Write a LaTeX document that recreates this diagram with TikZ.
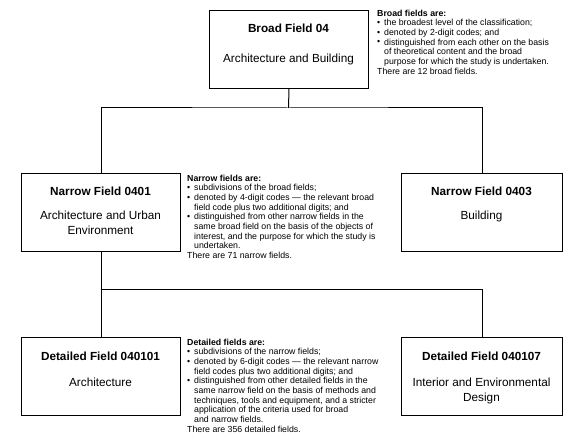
\documentclass[tikz,border=0pt]{standalone}
\usepackage{fontspec}
\setmainfont{Liberation Sans}
\newcommand\blt{\makebox[7bp][l]{\raisebox{0.3pt}{\textbullet}}}
\newcommand\ind{\hspace*{7bp}}
\begin{document}
\begin{tikzpicture}[x=1bp,y=-1bp,
  box/.style={draw,line width=1bp,minimum width=159bp,minimum height=78bp,inner sep=0,anchor=north west},
  ttl/.style={font=\fontsize{11.8}{14}\selectfont\bfseries,anchor=base,inner sep=0},
  bdy/.style={font=\fontsize{11.8}{15}\selectfont,anchor=base,inner sep=0},
  note/.style={font=\fontsize{8.8}{9.7}\selectfont,anchor=base west,align=left,inner sep=0},
  conn/.style={line width=1bp}]
\fill[white] (0,0) rectangle (582,445);
\useasboundingbox (0,0) rectangle (582,445);
% boxes
\node[box] (broad) at (209,10) {};
\node[box] (n1) at (21,173) {};
\node[box,minimum width=161bp] (n3) at (401,173) {};
\node[box] (d1) at (21,337) {};
\node[box,minimum width=161bp] (d2) at (401,337) {};
% box texts
\node[ttl] (broadT) at (288.5,33) {Broad Field 04};
\node[bdy] (broadB) at (288.5,63) {Architecture and Building};
\node[ttl] (n1T) at (100.5,196) {Narrow Field 0401};
\node[bdy] (n1B) at (100.5,220) {Architecture and Urban};
\node[bdy] (n1C) at (100.5,235) {Environment};
\node[ttl] (n3T) at (481.5,196) {Narrow Field 0403};
\node[bdy] (n3B) at (481.5,220) {Building};
\node[ttl] (d1T) at (100.5,360) {Detailed Field 040101};
\node[bdy] (d1B) at (100.5,386) {Architecture};
\node[ttl] (d2T) at (481.5,360) {Detailed Field 040107};
\node[bdy] (d2B) at (481.5,386) {Interior and Environmental};
\node[bdy] (d2C) at (481.5,401) {Design};
% notes (anchored at the baseline of their last line)
\node[note] (bnote) at (377,74.2) {\textbf{Broad fields are:}\\
\blt the broadest level of the classification;\\
\blt denoted by 2-digit codes; and\\
\blt distinguished from each other on the basis\\
\ind of theoretical content and the broad\\
\ind purpose for which the study is undertaken.\\
There are 12 broad fields.};
\node[note] (nnote) at (187,258.6) {\textbf{Narrow fields are:}\\
\blt subdivisions of the broad fields;\\
\blt denoted by 4-digit codes — the relevant broad\\
\ind field code plus two additional digits; and\\
\blt distinguished from other narrow fields in the\\
\ind same broad field on the basis of the objects of\\
\ind interest, and the purpose for which the study is\\
\ind undertaken.\\
There are 71 narrow fields.};
\node[note] (dnote) at (187,432.3) {\textbf{Detailed fields are:}\\
\blt subdivisions of the narrow fields;\\
\blt denoted by 6-digit codes — the relevant narrow\\
\ind field codes plus two additional digits; and\\
\blt distinguished from other detailed fields in the\\
\ind same narrow field on the basis of methods and\\
\ind techniques, tools and equipment, and a stricter\\
\ind application of the criteria used for broad\\
\ind and narrow fields.\\
There are 356 detailed fields.};
% connectors
\coordinate (h1) at (288.5,108);
\coordinate (h2) at (100.5,289);
\draw[conn] (broad.south) -- (h1);
\draw[conn] (n1.north) |- (h1) -| (n3.north);
\draw[conn] (n1.south) -- (d1.north);
\draw[conn] (h2) -| (d2.north);
\end{tikzpicture}
\end{document}
